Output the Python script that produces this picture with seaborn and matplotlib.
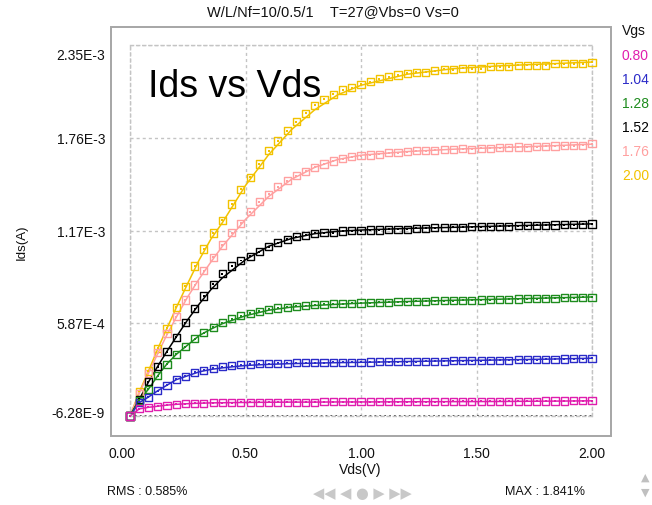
import matplotlib
matplotlib.use("Agg")
import matplotlib.pyplot as plt
import matplotlib.patches as mpatches
import matplotlib.transforms as mtransforms
import numpy as np
import pandas as pd
import seaborn as sns

# Drain sweep (V) for the measured points
vds = [0.00, 0.04, 0.08, 0.12, 0.16, 0.20, 0.24, 0.28, 0.32, 0.36,
       0.40, 0.44, 0.48, 0.52, 0.56, 0.60, 0.64, 0.68, 0.72, 0.76,
       0.80, 0.84, 0.88, 0.92, 0.96, 1.00, 1.04, 1.08, 1.12, 1.16,
       1.20, 1.24, 1.28, 1.32, 1.36, 1.40, 1.44, 1.48, 1.52, 1.56,
       1.60, 1.64, 1.68, 1.72, 1.76, 1.80, 1.84, 1.88, 1.92, 1.96,
       2.00]

# Drain sweep (V) for the model curves
vds_fit = [0.00, 0.04, 0.08, 0.12, 0.16, 0.20, 0.25, 0.30, 0.35, 0.40,
           0.50, 0.60, 0.70, 0.80, 0.90, 1.00, 1.20, 1.40, 1.60, 1.80, 2.00]

vgs_labels = ["2.00", "1.76", "1.52", "1.28", "1.04", "0.80"]
vgs_colors = ["#F2C200", "#FFA0A0", "#000000", "#1E8C1E", "#2B2BC8", "#E01EAE"]

# Measured Ids (mA)
meas_200 = [0.000, 0.152, 0.285, 0.430, 0.557, 0.690, 0.823, 0.950, 1.058, 1.159,
            1.241, 1.343, 1.436, 1.512, 1.596, 1.681, 1.742, 1.807, 1.864, 1.917,
            1.968, 2.006, 2.038, 2.065, 2.080, 2.101, 2.118, 2.135, 2.149, 2.160,
            2.171, 2.177, 2.177, 2.187, 2.196, 2.192, 2.203, 2.200, 2.200, 2.213,
            2.213, 2.213, 2.223, 2.223, 2.222, 2.222, 2.232, 2.232, 2.230, 2.230,
            2.241]
meas_176 = [0.000, 0.145, 0.272, 0.400, 0.520, 0.630, 0.735, 0.830, 0.920, 1.005,
            1.083, 1.161, 1.221, 1.294, 1.357, 1.404, 1.452, 1.490, 1.522, 1.550,
            1.575, 1.596, 1.615, 1.630, 1.642, 1.649, 1.653, 1.658, 1.668, 1.668,
            1.674, 1.680, 1.681, 1.683, 1.688, 1.688, 1.692, 1.690, 1.697, 1.697,
            1.699, 1.703, 1.704, 1.703, 1.706, 1.708, 1.710, 1.712, 1.713, 1.715,
            1.725]
meas_152 = [0.000, 0.105, 0.218, 0.313, 0.408, 0.500, 0.590, 0.680, 0.760, 0.835,
            0.900, 0.950, 0.985, 1.013, 1.041, 1.072, 1.098, 1.119, 1.136, 1.146,
            1.157, 1.161, 1.161, 1.172, 1.174, 1.174, 1.178, 1.178, 1.183, 1.183,
            1.184, 1.189, 1.190, 1.192, 1.194, 1.195, 1.196, 1.198, 1.199, 1.200,
            1.202, 1.203, 1.204, 1.206, 1.207, 1.208, 1.210, 1.211, 1.212, 1.214,
            1.216]
meas_128 = [0.000, 0.100, 0.168, 0.255, 0.329, 0.390, 0.440, 0.488, 0.528, 0.562,
            0.592, 0.617, 0.636, 0.652, 0.664, 0.675, 0.684, 0.690, 0.696, 0.700,
            0.704, 0.707, 0.710, 0.712, 0.714, 0.716, 0.718, 0.720, 0.721, 0.723,
            0.724, 0.726, 0.727, 0.729, 0.730, 0.731, 0.733, 0.734, 0.735, 0.737,
            0.738, 0.739, 0.741, 0.742, 0.743, 0.745, 0.746, 0.748, 0.749, 0.751,
            0.753]
meas_104 = [0.000, 0.088, 0.118, 0.160, 0.195, 0.232, 0.253, 0.276, 0.291, 0.302,
            0.312, 0.318, 0.324, 0.327, 0.330, 0.332, 0.333, 0.335, 0.336, 0.336,
            0.338, 0.338, 0.339, 0.340, 0.340, 0.341, 0.342, 0.343, 0.343, 0.344,
            0.345, 0.345, 0.346, 0.347, 0.348, 0.349, 0.350, 0.350, 0.351, 0.352,
            0.353, 0.354, 0.355, 0.356, 0.357, 0.358, 0.360, 0.361, 0.362, 0.364,
            0.366]
meas_080 = [0.000, 0.045, 0.055, 0.062, 0.069, 0.074, 0.077, 0.080, 0.082, 0.083,
            0.084, 0.085, 0.086, 0.086, 0.087, 0.087, 0.087, 0.088, 0.088, 0.088,
            0.088, 0.089, 0.089, 0.089, 0.089, 0.089, 0.090, 0.090, 0.090, 0.090,
            0.090, 0.091, 0.091, 0.091, 0.091, 0.092, 0.092, 0.092, 0.092, 0.093,
            0.093, 0.093, 0.094, 0.094, 0.094, 0.095, 0.095, 0.095, 0.096, 0.096,
            0.096]

# Model Ids (mA)
fit_200 = [0.000, 0.150, 0.285, 0.425, 0.555, 0.685, 0.840, 0.990, 1.120, 1.225,
           1.460, 1.655, 1.815, 1.940, 2.035, 2.095, 2.165, 2.200, 2.218, 2.230, 2.242]
fit_176 = [0.000, 0.143, 0.270, 0.395, 0.515, 0.625, 0.755, 0.870, 0.975, 1.075,
           1.245, 1.390, 1.500, 1.575, 1.625, 1.652, 1.675, 1.690, 1.700, 1.710, 1.722]
fit_152 = [0.000, 0.105, 0.215, 0.315, 0.410, 0.500, 0.610, 0.710, 0.800, 0.875,
           0.990, 1.075, 1.125, 1.155, 1.170, 1.178, 1.188, 1.195, 1.203, 1.210, 1.217]
fit_128 = [0.000, 0.100, 0.170, 0.255, 0.330, 0.390, 0.450, 0.510, 0.550, 0.585,
           0.635, 0.670, 0.690, 0.700, 0.708, 0.715, 0.725, 0.733, 0.740, 0.747, 0.754]
fit_104 = [0.000, 0.085, 0.120, 0.160, 0.195, 0.230, 0.255, 0.280, 0.295, 0.305,
           0.320, 0.327, 0.332, 0.335, 0.338, 0.340, 0.345, 0.350, 0.355, 0.360, 0.366]
fit_080 = [0.000, 0.045, 0.055, 0.062, 0.069, 0.074, 0.078, 0.081, 0.083, 0.084,
           0.086, 0.087, 0.088, 0.088, 0.089, 0.089, 0.090, 0.091, 0.092, 0.094, 0.096]

y_ticks = [-6.28e-9, 5.87e-4, 1.17e-3, 1.76e-3, 2.35e-3]
y_tick_labels = ["-6.28E-9", "5.87E-4", "1.17E-3", "1.76E-3", "2.35E-3"]
x_ticks = [0.0, 0.5, 1.0, 1.5, 2.0]
x_tick_labels = ["0.00", "0.50", "1.00", "1.50", "2.00"]

meas = [meas_200, meas_176, meas_152, meas_128, meas_104, meas_080]
fits = [fit_200, fit_176, fit_152, fit_128, fit_104, fit_080]

df_meas = pd.concat(
    [pd.DataFrame({"Vds": vds, "Ids": np.array(m) * 1e-3, "Vgs": lab})
     for m, lab in zip(meas, vgs_labels)], ignore_index=True)
df_fit = pd.concat(
    [pd.DataFrame({"Vds": vds_fit, "Ids": np.array(f) * 1e-3, "Vgs": lab})
     for f, lab in zip(fits, vgs_labels)], ignore_index=True)

palette = dict(zip(vgs_labels, vgs_colors))

sns.set_style("white")
plt.rcParams["font.family"] = ["Liberation Sans", "DejaVu Sans"]

W, H = 652, 505
fig = plt.figure(figsize=(W / 100, H / 100), dpi=100)
ax = fig.add_axes([130 / W, 1 - 416 / H, 462 / W, 371 / H])

grid_c = "#C4C4C4"
dash = (0, (2.2, 2.2))

# zero-current reference
ax.axhline(0.0, color="#303030", lw=1.1, ls=(0, (1.2, 2.0)), zorder=1)

sns.lineplot(data=df_fit, x="Vds", y="Ids", hue="Vgs", hue_order=vgs_labels,
             palette=palette, lw=1.1, legend=False, sort=False, ax=ax, zorder=2)

sns.scatterplot(data=df_meas, x="Vds", y="Ids", hue="Vgs", hue_order=vgs_labels,
                palette=palette, marker="s", s=26, linewidth=1.0,
                legend=False, ax=ax, zorder=3)
pts = ax.collections[-1]
cols = pts.get_facecolors()
pts.set_edgecolors(cols)
pts.set_facecolors("none")
pts.set_clip_on(False)

# small centre dot inside each hollow square
sns.scatterplot(data=df_meas, x="Vds", y="Ids", hue="Vgs", hue_order=vgs_labels,
                palette=palette, marker="s", s=2.0, linewidth=0,
                legend=False, ax=ax, zorder=4)
ax.collections[-1].set_clip_on(False)

ax.set_xlim(0.0, 2.0)
ax.set_ylim(-6.28e-9, 2.35e-3)
ax.set_xticks(x_ticks)
ax.set_xticklabels(x_tick_labels)
ax.set_yticks(y_ticks)
ax.set_yticklabels(y_tick_labels)
ax.tick_params(axis="both", length=0, labelsize=10, colors="#111111")
ax.tick_params(axis="y", pad=18)
ax.tick_params(axis="x", pad=22)
ax.set_xlabel("")
ax.set_ylabel("")
ax.grid(True, color=grid_c, ls=dash, lw=1.0)
for s in ax.spines.values():
    s.set_visible(True)
    s.set_color(grid_c)
    s.set_linestyle(dash)
    s.set_linewidth(1.0)

# nudge the end labels the way the panel lays them out
def nudge(label, dx_px, dy_px):
    off = mtransforms.ScaledTranslation(dx_px / 100, dy_px / 100, fig.dpi_scale_trans)
    label.set_transform(label.get_transform() + off)

ylabels = ax.get_yticklabels()
nudge(ylabels[-1], 0, -10)
nudge(ylabels[0], 0, 3)
nudge(ax.get_xticklabels()[0], -8, 0)

# outer panel frame
fig.add_artist(mpatches.Rectangle((111 / W, 1 - 436 / H), 500 / W, 409 / H,
                                  transform=fig.transFigure, fill=False,
                                  edgecolor="#A6A6A6", lw=1.4))

fig.text(333 / W, 1 - 12 / H, "W/L/Nf=10/0.5/1    T=27@Vbs=0 Vs=0",
         ha="center", va="center", fontsize=10.5, color="#111111")
fig.text(148 / W, 1 - 97 / H, "Ids vs Vds", ha="left", va="baseline",
         fontsize=27, color="black")
fig.text(22 / W, 1 - 242 / H, "Ids(A)", rotation=90, ha="center", va="center",
         fontsize=9.5, color="#111111")
fig.text(360 / W, 1 - 470 / H, "Vds(V)", ha="center", va="center",
         fontsize=10, color="#111111")

# Vgs key
fig.text(622 / W, 1 - 31 / H, "Vgs", ha="left", va="center", fontsize=10,
         color="#111111")
for k, (lab, c) in enumerate(zip(vgs_labels[::-1], vgs_colors[::-1])):
    fig.text(622 / W, 1 - (56 + 24 * k) / H, lab, ha="left", va="center",
             fontsize=10, color=c)

fig.text(107 / W, 1 - 492 / H, "RMS : 0.585%", ha="left", va="center",
         fontsize=9, color="#111111")
fig.text(505 / W, 1 - 492 / H, "MAX : 1.841%", ha="left", va="center",
         fontsize=9, color="#111111")
fig.text(362 / W, 1 - 493 / H, "◀◀ ◀ ● ▶ ▶▶", ha="center", va="center",
         fontsize=10.5, color="#C8C8C8", family="DejaVu Sans")
fig.text(645 / W, 1 - 478 / H, "▲", ha="center", va="center",
         fontsize=8, color="#C0C0C0", family="DejaVu Sans")
fig.text(645 / W, 1 - 493 / H, "▼", ha="center", va="center",
         fontsize=8, color="#C0C0C0", family="DejaVu Sans")

fig.savefig("out.png", dpi=100, facecolor="white")
